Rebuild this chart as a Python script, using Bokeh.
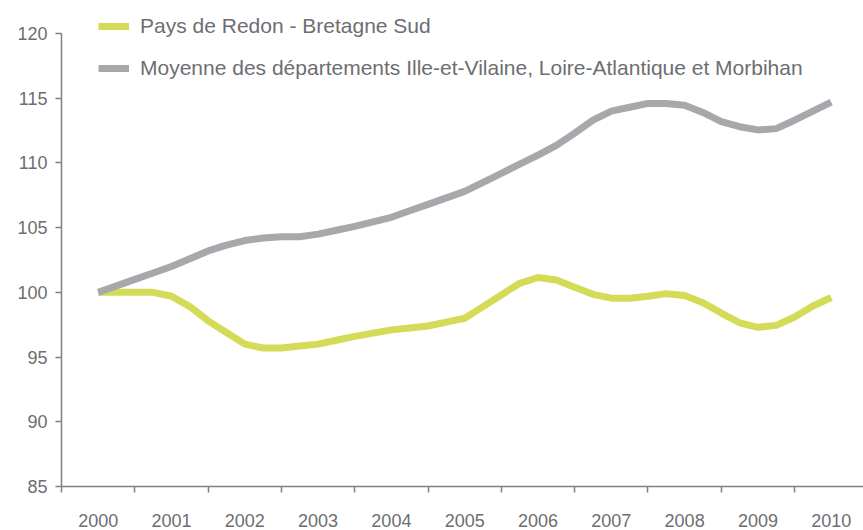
from bokeh.plotting import figure
from bokeh.models import FixedTicker, Legend, LegendItem, Range1d
from bokeh.embed import file_html
from bokeh.resources import INLINE

# Quarterly index values (base 100 in 2000)
quarters = [2000 + 0.25 * i for i in range(41)]
redon = [100.0, 100.0, 100.0, 100.0, 99.7, 98.9, 97.8, 96.9, 96.0, 95.7,
         95.7, 95.85, 96.0, 96.3, 96.6, 96.85, 97.1, 97.25, 97.4, 97.7,
         98.0, 98.9, 99.8, 100.7, 101.15, 100.95, 100.4, 99.85, 99.55, 99.55,
         99.7, 99.9, 99.75, 99.2, 98.4, 97.65, 97.3, 97.45, 98.1, 98.95, 99.6]
moyenne = [100.0, 100.5, 101.0, 101.5, 102.0, 102.6, 103.2, 103.65, 104.0, 104.2,
           104.3, 104.3, 104.5, 104.8, 105.1, 105.45, 105.8, 106.3, 106.8, 107.3,
           107.8, 108.5, 109.2, 109.9, 110.6, 111.35, 112.3, 113.3, 114.0, 114.3,
           114.6, 114.6, 114.45, 113.9, 113.2, 112.8, 112.55, 112.65, 113.3, 114.0, 114.7]
years = list(range(2000, 2011))
year_labels = [str(y) for y in years]
y_ticks = [85, 90, 95, 100, 105, 110, 115, 120]
series_names = ["Pays de Redon - Bretagne Sud",
                "Moyenne des départements Ille-et-Vilaine, Loire-Atlantique et Morbihan"]

GREEN = "#d3db57"
GREY = "#a7a8ac"
TEXT = "#6d6e71"
AXIS = "#808080"
FONT = "Liberation Sans"

p = figure(width=863, height=530, output_backend="svg", toolbar_location=None,
           x_range=Range1d(1999.5, 2010.44), y_range=Range1d(85, 122.55),
           min_border_left=61, min_border_right=0, min_border_top=0, min_border_bottom=44)
p.outline_line_color = None
p.xgrid.visible = False
p.ygrid.visible = False
p.background_fill_color = "white"
p.border_fill_color = "white"

r1 = p.line(quarters, redon, line_color=GREEN, line_width=7, line_join="round")
r2 = p.line(quarters, moyenne, line_color=GREY, line_width=7, line_join="round")

# y axis
ya = p.yaxis[0]
ya.ticker = FixedTicker(ticks=y_ticks)
ya.bounds = (85, 120)
ya.major_tick_out = 6
ya.major_tick_in = 0
ya.minor_tick_out = 0
ya.minor_tick_in = 0
ya.major_label_standoff = 8
ya.axis_line_color = AXIS
ya.axis_line_width = 1.5
ya.major_tick_line_color = AXIS
ya.major_tick_line_width = 1.5
ya.major_label_text_font = FONT
ya.major_label_text_font_size = "18px"
ya.major_label_text_color = TEXT

# x axis: labels at year centres, tick marks between years
xa = p.xaxis[0]
xa.ticker = FixedTicker(ticks=years, minor_ticks=[y - 0.5 for y in years])
xa.major_label_overrides = {y: l for y, l in zip(years, year_labels)}
xa.major_tick_out = 0
xa.major_tick_in = 0
xa.minor_tick_out = 6
xa.minor_tick_in = 0
xa.major_label_standoff = 21
xa.axis_line_color = AXIS
xa.axis_line_width = 1.5
xa.minor_tick_line_color = AXIS
xa.minor_tick_line_width = 1.5
xa.major_label_text_font = FONT
xa.major_label_text_font_size = "18px"
xa.major_label_text_color = TEXT

legend = Legend(items=[LegendItem(label=series_names[0], renderers=[r1]),
                       LegendItem(label=series_names[1], renderers=[r2])],
                location=(37, 406))
legend.padding = 0
legend.margin = 0
legend.spacing = 18
legend.glyph_width = 31
legend.glyph_height = 24
legend.label_height = 24
legend.label_standoff = 11
legend.label_text_font = FONT
legend.label_text_font_size = "21px"
legend.label_text_color = TEXT
legend.background_fill_alpha = 0
legend.border_line_alpha = 0
p.add_layout(legend, "center")

open("out.html", "w").write(file_html(p, INLINE))
